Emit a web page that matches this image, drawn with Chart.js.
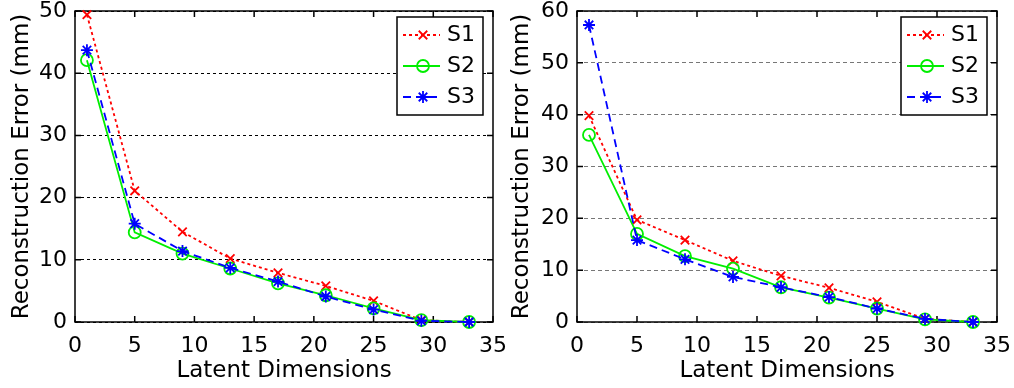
<!DOCTYPE html>
<html>
<head>
<meta charset="utf-8">
<script src="https://cdn.jsdelivr.net/npm/chart.js@4/dist/chart.umd.min.js"></script>
<style>
body{margin:0;background:#fff;width:1014px;height:388px;position:relative;overflow:hidden}
canvas{position:absolute;top:0}
#c1{left:0}
#c2{left:500px}
</style>
</head>
<body>
<canvas id="c1" width="515" height="388"></canvas>
<canvas id="c2" width="514" height="388"></canvas>
<script>
// data
var dims = [1, 5, 9, 13, 17, 21, 25, 29, 33];
var xTicks = [0, 5, 10, 15, 20, 25, 30, 35];

var leftS1 = [49.4, 21.1, 14.5, 10.2, 7.9, 5.8, 3.4, 0.3, 0];
var leftS2 = [42.1, 14.4, 11.0, 8.6, 6.2, 4.3, 2.2, 0.3, 0];
var leftS3 = [43.7, 15.8, 11.4, 8.7, 6.5, 4.1, 2.0, 0.2, 0];
var leftYTicks = [0, 10, 20, 30, 40, 50];

var rightS1 = [39.8, 19.7, 15.8, 11.8, 8.9, 6.6, 3.9, 0.6, 0];
var rightS2 = [36.1, 17.0, 12.7, 10.3, 6.7, 4.7, 2.6, 0.5, 0];
var rightS3 = [57.3, 15.8, 12.1, 8.7, 6.7, 4.8, 2.6, 0.6, 0];
var rightYTicks = [0, 10, 20, 30, 40, 50, 60];

var FONT = '"DejaVu Sans", sans-serif';

function pts(ys) {
    return dims.map(function(d, i) { return {x: d, y: ys[i]}; });
}

// box round the plot plus inward tick marks
var frame = {
    id: 'frame',
    beforeDatasetsDraw: function(chart) {
        var a = chart.chartArea, ctx = chart.ctx;
        var xs = chart.scales.x, ys = chart.scales.y;
        ctx.save();
        ctx.strokeStyle = '#000';
        ctx.lineWidth = 1.5;
        ctx.strokeRect(a.left, a.top, a.right - a.left, a.bottom - a.top);
        ctx.beginPath();
        xs.ticks.forEach(function(t) {
            var px = xs.getPixelForValue(t.value);
            ctx.moveTo(px, a.bottom); ctx.lineTo(px, a.bottom - 6);
            ctx.moveTo(px, a.top); ctx.lineTo(px, a.top + 6);
        });
        ys.ticks.forEach(function(t) {
            var py = ys.getPixelForValue(t.value);
            ctx.moveTo(a.left, py); ctx.lineTo(a.left + 6, py);
            ctx.moveTo(a.right, py); ctx.lineTo(a.right - 6, py);
        });
        ctx.stroke();
        ctx.restore();
    }
};

// legend box inside the plot, top right
var legendBox = {
    id: 'legendBox',
    afterDatasetsDraw: function(chart) {
        var a = chart.chartArea, ctx = chart.ctx;
        var w = 86, h = 98;
        var x0 = a.right - 10 - w, y0 = a.top + 6;
        ctx.save();
        ctx.fillStyle = '#fff';
        ctx.fillRect(x0, y0, w, h);
        ctx.strokeStyle = '#000';
        ctx.lineWidth = 1.5;
        ctx.strokeRect(x0, y0, w, h);
        chart.data.datasets.forEach(function(ds, i) {
            var y = y0 + 18 + i * 31;
            ctx.strokeStyle = ds.borderColor;
            ctx.lineWidth = ds.borderWidth;
            ctx.setLineDash(ds.borderDash || []);
            ctx.beginPath();
            ctx.moveTo(x0 + 6, y);
            ctx.lineTo(x0 + 43, y);
            ctx.stroke();
            ctx.setLineDash([]);
            ctx.fillStyle = 'rgba(0,0,0,0)';
            ctx.lineWidth = ds.pointBorderWidth;
            Chart.helpers.drawPoint(ctx, {pointStyle: ds.pointStyle, radius: ds.pointRadius, borderWidth: ds.pointBorderWidth, rotation: 0}, x0 + 26, y);
            ctx.fillStyle = '#000';
            ctx.font = '22px ' + FONT;
            ctx.textBaseline = 'middle';
            ctx.textAlign = 'left';
            ctx.fillText(ds.label, x0 + 50, y);
        });
        ctx.restore();
    }
};

function makeChart(id, s1, s2, s3, yTicks, gridColor, gridDash, yWidth, rightPad) {
    return new Chart(document.getElementById(id), {
        type: 'line',
        data: {
            datasets: [{
                label: 'S1',
                data: pts(s1),
                borderColor: '#ff0000',
                borderWidth: 1.8,
                borderDash: [3, 3],
                pointStyle: 'crossRot',
                pointRadius: 6,
                pointBorderWidth: 1.8,
                pointBorderColor: '#ff0000',
                pointBackgroundColor: 'rgba(0,0,0,0)',
                order: 3
            }, {
                label: 'S2',
                data: pts(s2),
                borderColor: '#00ee00',
                borderWidth: 1.8,
                pointStyle: 'circle',
                pointRadius: 6,
                pointBorderWidth: 1.8,
                pointBorderColor: '#00ee00',
                pointBackgroundColor: 'rgba(0,0,0,0)',
                order: 2
            }, {
                label: 'S3',
                data: pts(s3),
                borderColor: '#0000ff',
                borderWidth: 1.8,
                borderDash: [8, 5],
                pointStyle: 'star',
                pointRadius: 6,
                pointBorderWidth: 1.8,
                pointBorderColor: '#0000ff',
                pointBackgroundColor: 'rgba(0,0,0,0)',
                order: 1
            }]
        },
        options: {
            responsive: false,
            animation: false,
            clip: false,
            elements: {line: {tension: 0, fill: false}},
            layout: {padding: {top: 11, right: rightPad, bottom: 0, left: 0}},
            plugins: {legend: {display: false}, tooltip: {enabled: false}},
            scales: {
                x: {
                    type: 'linear',
                    min: 0,
                    max: 35,
                    afterBuildTicks: function(s) { s.ticks = xTicks.map(function(v) { return {value: v}; }); },
                    afterFit: function(s) { s.height = 66; s.paddingLeft = 0; s.paddingRight = 0; },
                    grid: {display: false},
                    border: {display: false},
                    ticks: {color: '#000', padding: 3, maxRotation: 0, font: {family: FONT, size: 22}},
                    title: {display: true, text: 'Latent Dimensions', color: '#000', padding: {top: 0, bottom: 3}, font: {family: FONT, size: 23}}
                },
                y: {
                    min: 0,
                    max: yTicks[yTicks.length - 1],
                    afterBuildTicks: function(s) { s.ticks = yTicks.map(function(v) { return {value: v}; }); },
                    afterFit: function(s) { s.width = yWidth; s.paddingTop = 0; s.paddingBottom = 0; },
                    grid: {color: gridColor, lineWidth: 1, drawTicks: false},
                    border: {display: false, dash: gridDash},
                    ticks: {color: '#000', padding: 8, font: {family: FONT, size: 22}},
                    title: {display: true, text: 'Reconstruction Error (mm)', color: '#000', padding: {top: 8, bottom: 0}, font: {family: FONT, size: 23}}
                }
            }
        },
        plugins: [frame, legendBox]
    });
}

makeChart('c1', leftS1, leftS2, leftS3, leftYTicks, '#000', [3, 3], 75, 22);
makeChart('c2', rightS1, rightS2, rightS3, rightYTicks, '#777', [4, 3], 77, 17);
</script>
</body>
</html>
